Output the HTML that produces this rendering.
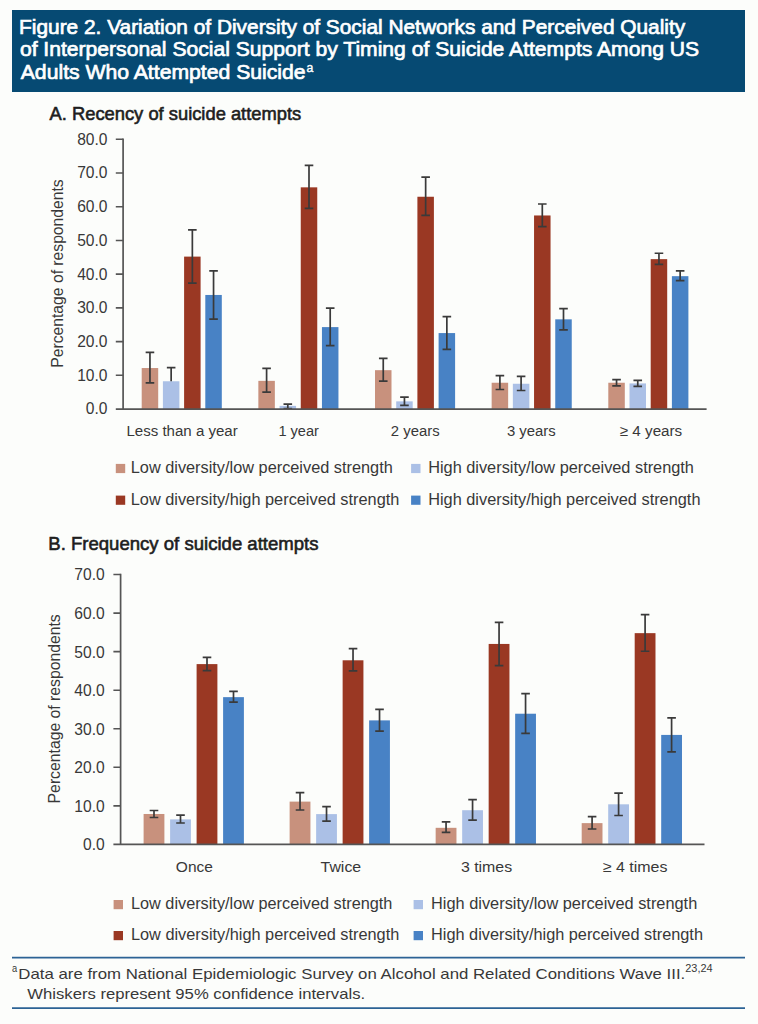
<!DOCTYPE html>
<html><head><meta charset="utf-8"><style>
html,body{margin:0;padding:0;background:#fcfdfb;}
body{width:758px;height:1024px;overflow:hidden;position:relative;}
svg{position:absolute;left:0;top:0;}
text{font-family:"Liberation Sans",sans-serif;}
.t{font-size:15.6px;fill:#383838;}
.t2{fill:#383838;}
</style></head><body>
<svg width="758" height="1024" viewBox="0 0 758 1024">
<rect x="12" y="10" width="733" height="82" fill="#064a73"/>
<text x="19.09" y="33.70"  style="font-size:20.6px;fill:#fff;stroke:#fff;stroke-width:0.7px;" textLength="666.14" lengthAdjust="spacingAndGlyphs">Figure 2. Variation of Diversity of Social Networks and Perceived Quality</text>
<text x="19.91" y="56.40"  style="font-size:20.6px;fill:#fff;stroke:#fff;stroke-width:0.7px;" textLength="679.15" lengthAdjust="spacingAndGlyphs">of Interpersonal Social Support by Timing of Suicide Attempts Among US</text>
<text x="20.76" y="79.20"  style="font-size:20.6px;fill:#fff;stroke:#fff;stroke-width:0.7px;" textLength="284.87" lengthAdjust="spacingAndGlyphs">Adults Who Attempted Suicide</text>
<text x="306.49" y="72.00"  style="font-size:12.5px;fill:#fff;stroke:#fff;stroke-width:0.4px;" textLength="6.82" lengthAdjust="spacingAndGlyphs">a</text>
<text x="49.56" y="119.80"  style="font-size:18.6px;fill:#1e1e1e;stroke:#1e1e1e;stroke-width:0.6px;" textLength="251.69" lengthAdjust="spacingAndGlyphs">A. Recency of suicide attempts</text>
<text x="48.28" y="550.10"  style="font-size:18.6px;fill:#1e1e1e;stroke:#1e1e1e;stroke-width:0.6px;" textLength="270.28" lengthAdjust="spacingAndGlyphs">B. Frequency of suicide attempts</text>
<rect x="141.70" y="368.04" width="16.50" height="41.01" fill="#c8917d"/>
<rect x="162.90" y="381.26" width="16.50" height="27.79" fill="#abc0e6"/>
<rect x="184.10" y="256.61" width="16.50" height="152.44" fill="#9a3823"/>
<rect x="205.30" y="294.96" width="16.50" height="114.09" fill="#4882c5"/>
<rect x="258.35" y="380.86" width="16.50" height="28.19" fill="#c8917d"/>
<rect x="279.55" y="405.85" width="16.50" height="3.20" fill="#abc0e6"/>
<rect x="300.75" y="187.34" width="16.50" height="221.71" fill="#9a3823"/>
<rect x="321.95" y="327.10" width="16.50" height="81.95" fill="#4882c5"/>
<rect x="375.00" y="370.17" width="16.50" height="38.88" fill="#c8917d"/>
<rect x="396.20" y="401.36" width="16.50" height="7.69" fill="#abc0e6"/>
<rect x="417.40" y="196.75" width="16.50" height="212.30" fill="#9a3823"/>
<rect x="438.60" y="333.07" width="16.50" height="75.98" fill="#4882c5"/>
<rect x="491.65" y="382.74" width="16.50" height="26.31" fill="#c8917d"/>
<rect x="512.85" y="383.76" width="16.50" height="25.29" fill="#abc0e6"/>
<rect x="534.05" y="215.47" width="16.50" height="193.58" fill="#9a3823"/>
<rect x="555.25" y="319.34" width="16.50" height="89.71" fill="#4882c5"/>
<rect x="608.30" y="382.74" width="16.50" height="26.31" fill="#c8917d"/>
<rect x="629.50" y="383.42" width="16.50" height="25.63" fill="#abc0e6"/>
<rect x="650.70" y="259.14" width="16.50" height="149.91" fill="#9a3823"/>
<rect x="671.90" y="276.17" width="16.50" height="132.88" fill="#4882c5"/>
<path d="M149.95 352.39V382.85M145.65 352.39H154.25M145.65 382.85H154.25" stroke="#3a3a3a" stroke-width="1.7" fill="none"/>
<path d="M171.15 367.67V381.26M166.85 367.67H175.45" stroke="#3a3a3a" stroke-width="1.7" fill="none"/>
<path d="M192.35 229.97V283.05M188.05 229.97H196.65M188.05 283.05H196.65" stroke="#3a3a3a" stroke-width="1.7" fill="none"/>
<path d="M213.55 270.95V319.14M209.25 270.95H217.85M209.25 319.14H217.85" stroke="#3a3a3a" stroke-width="1.7" fill="none"/>
<path d="M266.60 368.45V392.19M262.30 368.45H270.90M262.30 392.19H270.90" stroke="#3a3a3a" stroke-width="1.7" fill="none"/>
<path d="M287.80 404.06V408.54M283.50 404.06H292.10M283.50 408.54H292.10" stroke="#3a3a3a" stroke-width="1.7" fill="none"/>
<path d="M309.00 165.45V208.39M304.70 165.45H313.30M304.70 208.39H313.30" stroke="#3a3a3a" stroke-width="1.7" fill="none"/>
<path d="M330.20 308.04V345.65M325.90 308.04H334.50M325.90 345.65H334.50" stroke="#3a3a3a" stroke-width="1.7" fill="none"/>
<path d="M383.25 358.46V381.06M378.95 358.46H387.55M378.95 381.06H387.55" stroke="#3a3a3a" stroke-width="1.7" fill="none"/>
<path d="M404.45 397.04V405.44M400.15 397.04H408.75M400.15 405.44H408.75" stroke="#3a3a3a" stroke-width="1.7" fill="none"/>
<path d="M425.65 177.16V215.47M421.35 177.16H429.95M421.35 215.47H429.95" stroke="#3a3a3a" stroke-width="1.7" fill="none"/>
<path d="M446.85 316.54V349.36M442.55 316.54H451.15M442.55 349.36H451.15" stroke="#3a3a3a" stroke-width="1.7" fill="none"/>
<path d="M499.90 375.66V389.49M495.60 375.66H504.20M495.60 389.49H504.20" stroke="#3a3a3a" stroke-width="1.7" fill="none"/>
<path d="M521.10 376.34V390.50M516.80 376.34H525.40M516.80 390.50H525.40" stroke="#3a3a3a" stroke-width="1.7" fill="none"/>
<path d="M542.30 204.00V226.60M538.00 204.00H546.60M538.00 226.60H546.60" stroke="#3a3a3a" stroke-width="1.7" fill="none"/>
<path d="M563.50 308.55V329.80M559.20 308.55H567.80M559.20 329.80H567.80" stroke="#3a3a3a" stroke-width="1.7" fill="none"/>
<path d="M616.55 379.54V385.78M612.25 379.54H620.85M612.25 385.78H620.85" stroke="#3a3a3a" stroke-width="1.7" fill="none"/>
<path d="M637.75 380.38V386.45M633.45 380.38H642.05M633.45 386.45H642.05" stroke="#3a3a3a" stroke-width="1.7" fill="none"/>
<path d="M658.95 253.24V264.37M654.65 253.24H663.25M654.65 264.37H663.25" stroke="#3a3a3a" stroke-width="1.7" fill="none"/>
<path d="M680.15 270.78V280.56M675.85 270.78H684.45M675.85 280.56H684.45" stroke="#3a3a3a" stroke-width="1.7" fill="none"/>
<path d="M123.10 138.45V409.05" stroke="#555555" stroke-width="1.7" fill="none"/>
<path d="M115.80 409.05H706.60" stroke="#555555" stroke-width="1.8" fill="none"/>
<path d="M115.80 375.32H123.10M115.80 341.60H123.10M115.80 307.88H123.10M115.80 274.15H123.10M115.80 240.43H123.10M115.80 206.70H123.10M115.80 172.97H123.10M115.80 139.25H123.10" stroke="#555555" stroke-width="1.6" fill="none"/>
<text x="107.50" y="414.45" text-anchor="end" class="t">0.0</text>
<text x="107.50" y="380.72" text-anchor="end" class="t">10.0</text>
<text x="107.50" y="347.00" text-anchor="end" class="t">20.0</text>
<text x="107.50" y="313.27" text-anchor="end" class="t">30.0</text>
<text x="107.50" y="279.55" text-anchor="end" class="t">40.0</text>
<text x="107.50" y="245.83" text-anchor="end" class="t">50.0</text>
<text x="107.50" y="212.10" text-anchor="end" class="t">60.0</text>
<text x="107.50" y="178.38" text-anchor="end" class="t">70.0</text>
<text x="107.50" y="144.65" text-anchor="end" class="t">80.0</text>
<text x="126.47" y="435.80" class="t2" style="font-size:15.2px;" textLength="111.28" lengthAdjust="spacingAndGlyphs">Less than a year</text>
<text x="278.39" y="435.80" class="t2" style="font-size:15.2px;" textLength="40.56" lengthAdjust="spacingAndGlyphs">1 year</text>
<text x="390.86" y="435.80" class="t2" style="font-size:15.2px;" textLength="48.78" lengthAdjust="spacingAndGlyphs">2 years</text>
<text x="506.93" y="435.80" class="t2" style="font-size:15.2px;" textLength="48.81" lengthAdjust="spacingAndGlyphs">3 years</text>
<text x="619.81" y="435.80" class="t2" style="font-size:15.2px;" textLength="62.43" lengthAdjust="spacingAndGlyphs">≥ 4 years</text>
<text transform="translate(63.00 366.40) rotate(-90)" x="-1.29" y="0" class="t2" style="font-size:16.3px" textLength="188.36" lengthAdjust="spacingAndGlyphs">Percentage of respondents</text>
<rect x="115.80" y="463.90" width="9.4" height="9.2" fill="#c8917d"/>
<text x="130.76" y="473.40" class="t2" style="font-size:15.6px;" textLength="262.00" lengthAdjust="spacingAndGlyphs">Low diversity/low perceived strength</text>
<rect x="411.10" y="463.90" width="9.4" height="9.2" fill="#abc0e6"/>
<text x="428.16" y="473.40" class="t2" style="font-size:15.6px;" textLength="265.80" lengthAdjust="spacingAndGlyphs">High diversity/low perceived strength</text>
<rect x="115.80" y="495.60" width="9.4" height="9.2" fill="#9a3823"/>
<text x="130.76" y="504.80" class="t2" style="font-size:15.6px;" textLength="268.60" lengthAdjust="spacingAndGlyphs">Low diversity/high perceived strength</text>
<rect x="411.10" y="495.60" width="9.4" height="9.2" fill="#4882c5"/>
<text x="428.16" y="504.80" class="t2" style="font-size:15.6px;" textLength="272.31" lengthAdjust="spacingAndGlyphs">High diversity/high perceived strength</text>
<rect x="143.60" y="813.98" width="20.80" height="30.42" fill="#c8917d"/>
<rect x="170.10" y="819.38" width="20.80" height="25.02" fill="#abc0e6"/>
<rect x="196.60" y="664.10" width="20.80" height="180.30" fill="#9a3823"/>
<rect x="223.10" y="697.14" width="20.80" height="147.26" fill="#4882c5"/>
<rect x="289.63" y="801.61" width="20.80" height="42.79" fill="#c8917d"/>
<rect x="316.13" y="814.10" width="20.80" height="30.30" fill="#abc0e6"/>
<rect x="342.63" y="660.29" width="20.80" height="184.11" fill="#9a3823"/>
<rect x="369.13" y="720.38" width="20.80" height="124.02" fill="#4882c5"/>
<rect x="435.66" y="827.82" width="20.80" height="16.58" fill="#c8917d"/>
<rect x="462.16" y="810.21" width="20.80" height="34.19" fill="#abc0e6"/>
<rect x="488.66" y="643.94" width="20.80" height="200.46" fill="#9a3823"/>
<rect x="515.16" y="713.72" width="20.80" height="130.68" fill="#4882c5"/>
<rect x="581.69" y="823.12" width="20.80" height="21.28" fill="#c8917d"/>
<rect x="608.19" y="804.31" width="20.80" height="40.09" fill="#abc0e6"/>
<rect x="634.69" y="633.15" width="20.80" height="211.25" fill="#9a3823"/>
<rect x="661.19" y="734.92" width="20.80" height="109.48" fill="#4882c5"/>
<path d="M154.00 810.51V817.49M149.70 810.51H158.30M149.70 817.49H158.30" stroke="#3a3a3a" stroke-width="1.7" fill="none"/>
<path d="M180.50 815.22V823.00M176.20 815.22H184.80M176.20 823.00H184.80" stroke="#3a3a3a" stroke-width="1.7" fill="none"/>
<path d="M207.00 657.43V670.69M202.70 657.43H211.30M202.70 670.69H211.30" stroke="#3a3a3a" stroke-width="1.7" fill="none"/>
<path d="M233.50 691.36V702.15M229.20 691.36H237.80M229.20 702.15H237.80" stroke="#3a3a3a" stroke-width="1.7" fill="none"/>
<path d="M300.03 792.59V810.01M295.73 792.59H304.33M295.73 810.01H304.33" stroke="#3a3a3a" stroke-width="1.7" fill="none"/>
<path d="M326.53 806.58V821.12M322.23 806.58H330.83M322.23 821.12H330.83" stroke="#3a3a3a" stroke-width="1.7" fill="none"/>
<path d="M353.03 648.57V670.92M348.73 648.57H357.33M348.73 670.92H357.33" stroke="#3a3a3a" stroke-width="1.7" fill="none"/>
<path d="M379.53 709.47V731.06M375.23 709.47H383.83M375.23 731.06H383.83" stroke="#3a3a3a" stroke-width="1.7" fill="none"/>
<path d="M446.06 821.89V832.45M441.76 821.89H450.36M441.76 832.45H450.36" stroke="#3a3a3a" stroke-width="1.7" fill="none"/>
<path d="M472.56 799.68V820.11M468.26 799.68H476.86M468.26 820.11H476.86" stroke="#3a3a3a" stroke-width="1.7" fill="none"/>
<path d="M499.06 622.35V665.53M494.76 622.35H503.36M494.76 665.53H503.36" stroke="#3a3a3a" stroke-width="1.7" fill="none"/>
<path d="M525.56 693.67V733.38M521.26 693.67H529.86M521.26 733.38H529.86" stroke="#3a3a3a" stroke-width="1.7" fill="none"/>
<path d="M592.09 816.64V828.98M587.79 816.64H596.39M587.79 828.98H596.39" stroke="#3a3a3a" stroke-width="1.7" fill="none"/>
<path d="M618.59 793.13V815.49M614.29 793.13H622.89M614.29 815.49H622.89" stroke="#3a3a3a" stroke-width="1.7" fill="none"/>
<path d="M645.09 614.64V651.26M640.79 614.64H649.39M640.79 651.26H649.39" stroke="#3a3a3a" stroke-width="1.7" fill="none"/>
<path d="M671.59 717.96V751.88M667.29 717.96H675.89M667.29 751.88H675.89" stroke="#3a3a3a" stroke-width="1.7" fill="none"/>
<path d="M120.60 573.75V844.40" stroke="#555555" stroke-width="1.7" fill="none"/>
<path d="M113.40 844.40H704.50" stroke="#555555" stroke-width="1.8" fill="none"/>
<path d="M113.40 805.85H120.60M113.40 767.30H120.60M113.40 728.75H120.60M113.40 690.20H120.60M113.40 651.65H120.60M113.40 613.10H120.60M113.40 574.55H120.60" stroke="#555555" stroke-width="1.6" fill="none"/>
<text x="104.70" y="850.30" text-anchor="end" class="t">0.0</text>
<text x="104.70" y="811.75" text-anchor="end" class="t">10.0</text>
<text x="104.70" y="773.20" text-anchor="end" class="t">20.0</text>
<text x="104.70" y="734.65" text-anchor="end" class="t">30.0</text>
<text x="104.70" y="696.10" text-anchor="end" class="t">40.0</text>
<text x="104.70" y="657.55" text-anchor="end" class="t">50.0</text>
<text x="104.70" y="619.00" text-anchor="end" class="t">60.0</text>
<text x="104.70" y="580.45" text-anchor="end" class="t">70.0</text>
<text x="175.87" y="871.60" class="t2" style="font-size:15.2px;" textLength="37.01" lengthAdjust="spacingAndGlyphs">Once</text>
<text x="320.55" y="871.60" class="t2" style="font-size:15.2px;" textLength="40.65" lengthAdjust="spacingAndGlyphs">Twice</text>
<text x="460.90" y="871.60" class="t2" style="font-size:15.2px;" textLength="51.28" lengthAdjust="spacingAndGlyphs">3 times</text>
<text x="602.69" y="871.60" class="t2" style="font-size:15.2px;" textLength="64.78" lengthAdjust="spacingAndGlyphs">≥ 4 times</text>
<text transform="translate(60.20 802.10) rotate(-90)" x="-1.29" y="0" class="t2" style="font-size:16.3px" textLength="189.06" lengthAdjust="spacingAndGlyphs">Percentage of respondents</text>
<rect x="113.60" y="900.00" width="9.4" height="9.2" fill="#c8917d"/>
<text x="130.97" y="908.70" class="t2" style="font-size:15.6px;" textLength="261.39" lengthAdjust="spacingAndGlyphs">Low diversity/low perceived strength</text>
<rect x="413.60" y="900.00" width="9.4" height="9.2" fill="#abc0e6"/>
<text x="431.06" y="908.70" class="t2" style="font-size:15.6px;" textLength="266.21" lengthAdjust="spacingAndGlyphs">High diversity/low perceived strength</text>
<rect x="113.60" y="931.00" width="9.4" height="9.2" fill="#9a3823"/>
<text x="130.96" y="939.60" class="t2" style="font-size:15.6px;" textLength="268.30" lengthAdjust="spacingAndGlyphs">Low diversity/high perceived strength</text>
<rect x="413.60" y="931.00" width="9.4" height="9.2" fill="#4882c5"/>
<text x="431.06" y="939.60" class="t2" style="font-size:15.6px;" textLength="271.90" lengthAdjust="spacingAndGlyphs">High diversity/high perceived strength</text>
<path d="M12 957.6H745M12 1008.2H745" stroke="#2c6395" stroke-width="1.7" fill="none"/>
<text x="12.11" y="971.60" class="t2" style="font-size:11.5px;" textLength="5.19" lengthAdjust="spacingAndGlyphs">a</text>
<text x="18.32" y="978.50" class="t2" style="font-size:15.0px;" textLength="666.91" lengthAdjust="spacingAndGlyphs">Data are from National Epidemiologic Survey on Alcohol and Related Conditions Wave III.</text>
<text x="685.25" y="972.30" class="t2" style="font-size:10.5px;" textLength="27.37" lengthAdjust="spacingAndGlyphs">23,24</text>
<text x="27.32" y="998.60" class="t2" style="font-size:15.0px;" textLength="337.80" lengthAdjust="spacingAndGlyphs">Whiskers represent 95% confidence intervals.</text>
</svg>
</body></html>
